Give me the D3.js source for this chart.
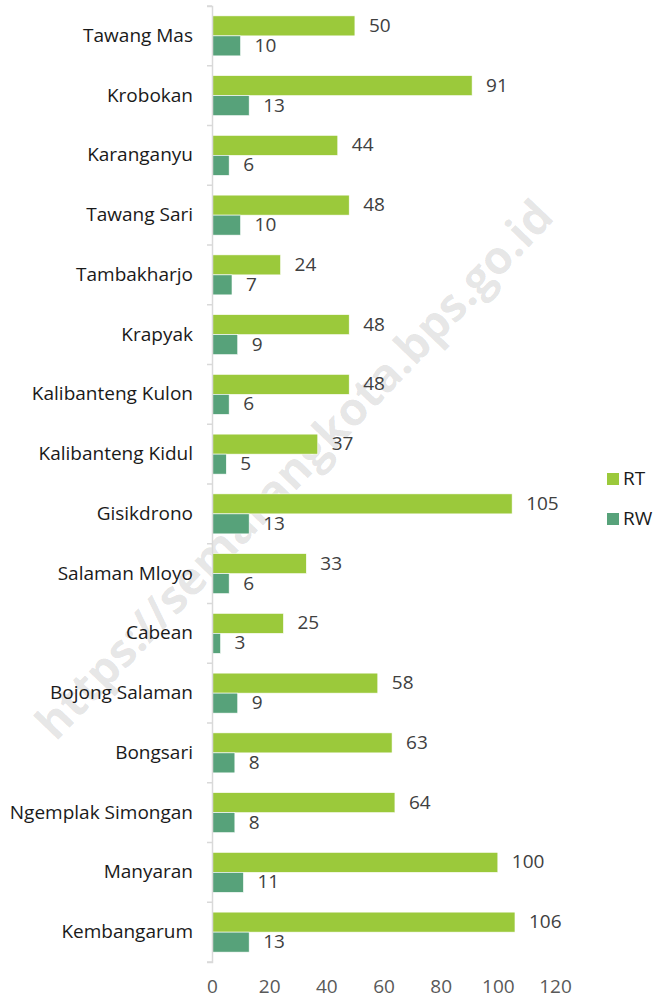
<!DOCTYPE html>
<html>
<head>
<script src="https://d3js.org/d3.v7.min.js"></script>
<style>
  body { margin: 0; background: #fff; }
  text { font-family: "Open Sans", "Noto Sans", sans-serif; }
</style>
</head>
<body>
<svg width="654" height="1000"></svg>
<script>
// chart values
var categories = ["Tawang Mas", "Krobokan", "Karanganyu", "Tawang Sari", "Tambakharjo",
  "Krapyak", "Kalibanteng Kulon", "Kalibanteng Kidul", "Gisikdrono", "Salaman Mloyo",
  "Cabean", "Bojong Salaman", "Bongsari", "Ngemplak Simongan", "Manyaran", "Kembangarum"];
var rt = [50, 91, 44, 48, 24, 48, 48, 37, 105, 33, 25, 58, 63, 64, 100, 106];
var rw = [10, 13, 6, 10, 7, 9, 6, 5, 13, 6, 3, 9, 8, 8, 11, 13];
var seriesNames = ["RT", "RW"];
var xTicks = [0, 20, 40, 60, 80, 100, 120];

var colors = { RT: "#9bc93b", RW: "#57a27a" };
var fs = "19px";

var svg = d3.select("svg");

// watermark
svg.append("text")
  .attr("transform", "translate(297,472) rotate(-46.3)")
  .attr("text-anchor", "middle")
  .attr("dominant-baseline", "middle")
  .style("font-family", "'Open Sans', sans-serif")
  .style("font-weight", "bold")
  .style("font-size", "46px")
  .style("fill", "#000")
  .style("fill-opacity", 0.11)
  .text("https://semarangkota.bps.go.id");

var x = d3.scaleLinear().domain([0, 120]).range([212, 555]);
var y = d3.scaleBand().domain(categories).range([6, 962]).paddingInner(0).paddingOuter(0);

var rows = categories.map(function(c, i) {
  return { name: c, RT: rt[i], RW: rw[i] };
});

var barH = 20;

var g = svg.selectAll("g.row")
  .data(rows)
  .enter()
  .append("g")
  .attr("class", "row")
  .attr("transform", function(d) { return "translate(0," + y(d.name) + ")"; });

seriesNames.forEach(function(s, k) {
  var top = (y.bandwidth() - 2 * barH) / 2 + k * barH;
  g.append("rect")
    .attr("x", x(0))
    .attr("y", top)
    .attr("width", function(d) { return x(d[s]) - x(0); })
    .attr("height", barH)
    .attr("fill", colors[s])
    .attr("stroke", "#fff")
    .attr("stroke-width", 0.6);

  g.append("text")
    .attr("x", function(d) { return x(d[s]) + 14; })
    .attr("y", top + barH / 2 + 1)
    .attr("dominant-baseline", "middle")
    .style("font-size", fs)
    .style("fill", "#404040")
    .text(function(d) { return d[s]; });
});

// y axis
var yAxis = d3.axisLeft(y).tickSize(5).tickSizeOuter(5).tickPadding(15);
var ya = svg.append("g").attr("transform", "translate(" + x(0) + ",0)").call(yAxis);
ya.select(".domain").attr("stroke", "#d9d9d9").attr("stroke-width", 1.5);
ya.selectAll(".tick line").remove();
// category boundaries as ticks
svg.append("g").selectAll("line")
  .data(d3.range(categories.length + 1))
  .enter().append("line")
  .attr("x1", x(0) - 5).attr("x2", x(0))
  .attr("y1", function(i) { return y.range()[0] + i * y.step(); })
  .attr("y2", function(i) { return y.range()[0] + i * y.step(); })
  .attr("stroke", "#d9d9d9").attr("stroke-width", 1.5);
ya.selectAll(".tick text")
  .attr("x", -19)
  .style("font-family", "'Open Sans', sans-serif")
  .style("font-size", fs)
  .style("fill", "#1a1a1a");

// x axis labels
var xAxis = d3.axisBottom(x).tickValues(xTicks).tickSize(0).tickPadding(0);
var xa = svg.append("g").attr("transform", "translate(0,979)").call(xAxis);
xa.select(".domain").remove();
xa.selectAll(".tick text")
  .style("font-family", "'Open Sans', sans-serif")
  .style("font-size", fs)
  .style("fill", "#595959");

// legend
var leg = svg.append("g").selectAll("g")
  .data(seriesNames)
  .enter().append("g")
  .attr("transform", function(d, i) { return "translate(607," + (473 + i * 40) + ")"; });
leg.append("rect").attr("width", 12).attr("height", 12).attr("fill", function(d) { return colors[d]; });
leg.append("text").attr("x", 16).attr("y", 7).attr("dominant-baseline", "middle")
  .style("font-size", fs).style("fill", "#1a1a1a").text(function(d) { return d; });
</script>
</body>
</html>
